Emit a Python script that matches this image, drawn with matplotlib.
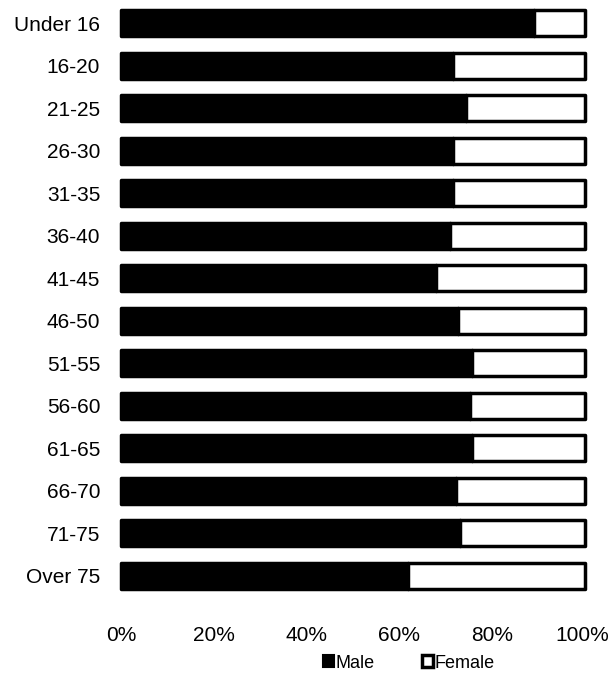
import matplotlib
matplotlib.use("Agg")
import matplotlib.pyplot as plt
import matplotlib.transforms as mtransforms
from matplotlib.patches import Rectangle
from matplotlib.ticker import FuncFormatter

plt.rcParams['font.family'] = ['Liberation Sans', 'DejaVu Sans']

age_groups = ["Under 16", "16-20", "21-25", "26-30", "31-35", "36-40", "41-45",
              "46-50", "51-55", "56-60", "61-65", "66-70", "71-75", "Over 75"]
male_share = [89.0, 71.6, 74.3, 71.6, 71.6, 70.9, 67.9,
              72.6, 75.6, 75.2, 75.6, 72.2, 73.1, 61.9]
female_share = [100 - m for m in male_share]
x_ticks = [0, 20, 40, 60, 80, 100]

fig = plt.figure(figsize=(6.10, 6.73), dpi=100)
ax = fig.add_axes([121 / 610, 1 - 597 / 673, 464 / 610, 595 / 673])

pos = list(range(len(age_groups)))
bar_h = 0.62
male_bars = ax.barh(pos, male_share, height=bar_h, color="black", edgecolor="black",
                    linewidth=2.5, label="Male", zorder=2)
female_bars = ax.barh(pos, female_share, left=male_share, height=bar_h, color="white",
                      edgecolor="black", linewidth=2.5, label="Female", zorder=3)
for b in list(male_bars) + list(female_bars):
    b.set_clip_on(False)
    b.set_joinstyle("round")

ax.set_xlim(0, 100)
ax.set_ylim(len(age_groups) - 0.5, -0.5)
ax.set_yticks(pos)
ax.set_yticklabels(age_groups)
ax.set_xticks(x_ticks)
ax.xaxis.set_major_formatter(FuncFormatter(lambda v, p: f"{v:.0f}%"))
ax.tick_params(axis="both", length=0, labelsize=15)
ax.tick_params(axis="x", pad=21)
ax.tick_params(axis="y", pad=15)
for s in ax.spines.values():
    s.set_visible(False)

# keep the rightmost percentage label inside the canvas
last = ax.get_xticklabels()[-1]
last.set_transform(last.get_transform() +
                   mtransforms.ScaledTranslation(-3 / 100, 0, fig.dpi_scale_trans))

handles = [Rectangle((0, 0), 1, 1, facecolor="black", edgecolor="black", linewidth=1.5),
           Rectangle((0, 0), 1, 1, facecolor="white", edgecolor="black", linewidth=2.5)]
fig.legend(handles, ["Male", "Female"], loc="center", bbox_to_anchor=(0.670, 1 - 663 / 673),
           ncol=2, frameon=False, fontsize=13, handlelength=0.6, handleheight=0.6,
           handletextpad=0.1, columnspacing=2.6)

fig.savefig("out.png", dpi=100)
